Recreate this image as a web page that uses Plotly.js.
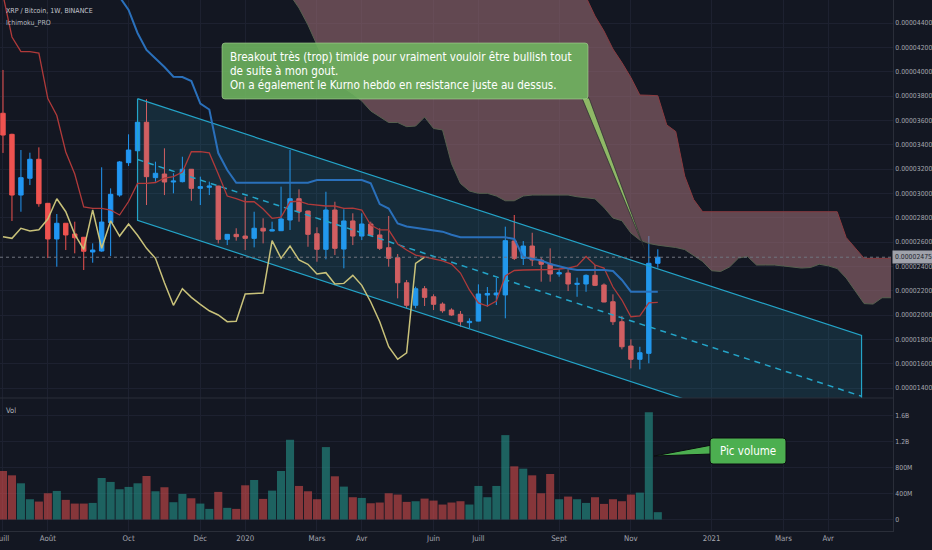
<!DOCTYPE html>
<html>
<head>
<meta charset="utf-8">
<script src="https://cdn.plot.ly/plotly-3.0.1.min.js"></script>
<style>
  html, body { margin: 0; padding: 0; background: #131722; }
  #chart { width: 932px; height: 550px; }
</style>
</head>
<body>
<div id="chart"></div>
<script>
// ---------- DATA (prices in satoshis, 1e-8 BTC; volume in millions) ----------
const weeks = [
  '2019-07-01','2019-07-08','2019-07-15','2019-07-22','2019-07-29','2019-08-05','2019-08-12','2019-08-19','2019-08-26','2019-09-02',
  '2019-09-09','2019-09-16','2019-09-23','2019-09-30','2019-10-07','2019-10-14','2019-10-21','2019-10-28','2019-11-04','2019-11-11',
  '2019-11-18','2019-11-25','2019-12-02','2019-12-09','2019-12-16','2019-12-23','2019-12-30','2020-01-06','2020-01-13','2020-01-20',
  '2020-01-27','2020-02-03','2020-02-10','2020-02-17','2020-02-24','2020-03-02','2020-03-09','2020-03-16','2020-03-23','2020-03-30',
  '2020-04-06','2020-04-13','2020-04-20','2020-04-27','2020-05-04','2020-05-11','2020-05-18','2020-05-25','2020-06-01','2020-06-08',
  '2020-06-15','2020-06-22','2020-06-29','2020-07-06','2020-07-13','2020-07-20','2020-07-27','2020-08-03','2020-08-10','2020-08-17',
  '2020-08-24','2020-08-31','2020-09-07','2020-09-14','2020-09-21','2020-09-28','2020-10-05','2020-10-12','2020-10-19','2020-10-26',
  '2020-11-02','2020-11-09','2020-11-16','2020-11-23'
];
const open = [
  3658,3485,2986,3124,3280,2918,2625,2754,2666,2639,
  2518,2526,2759,2986,3252,3350,3584,3129,3159,3093,
  3096,3198,3041,3050,3060,2622,2663,2649,2630,2713,
  2690,2693,2781,2956,2855,2668,2540,2863,2542,2773,
  2649,2748,2658,2553,2471,2265,2080,2216,2150,2090,
  2041,2006,1937,1950,2164,2165,2165,2608,2466,2567,
  2452,2419,2337,2345,2252,2255,2326,2247,2109,1945,
  1745,1636,1685,2425
];
const high = [
  4014,3490,3356,3334,3378,2920,2830,2756,2767,2641,
  2589,3214,3041,3266,3485,3590,3773,3260,3370,3165,
  3301,3200,3137,3096,3062,2666,2713,2972,2849,2795,
  2767,3055,3356,3033,2857,2721,3013,2931,2869,2836,
  2836,2767,2713,2814,2501,2288,2233,2238,2170,2104,
  2055,2033,1973,2252,2230,2304,2726,2822,2608,2676,
  2474,2548,2376,2376,2307,2334,2411,2260,2170,1992,
  1800,1739,2649,2540
];
const low = [
  3332,2773,2849,3068,2890,2468,2397,2534,2507,2370,
  2430,2520,2485,2972,3225,3345,2904,3096,2986,3000,
  3090,2939,2904,2986,2589,2575,2611,2534,2556,2589,
  2688,2690,2699,2767,2561,2438,2458,2493,2384,2575,
  2616,2650,2534,2397,2137,2055,2055,2074,2041,2019,
  1994,1904,1891,1948,2068,2082,1973,2452,2411,2403,
  2274,2274,2315,2197,2150,2191,2238,2105,1918,1718,
  1562,1553,1603,2389
];
const close = [
  3479,2986,3129,3280,2915,2625,2754,2658,2635,2524,
  2534,2764,2992,3258,3356,3584,3137,3165,3093,3101,
  3198,3041,3055,3060,2622,2663,2644,2630,2713,2690,
  2701,2789,2956,2849,2663,2540,2863,2548,2773,2649,
  2748,2655,2548,2466,2265,2080,2216,2145,2088,2035,
  2000,1945,1948,2173,2177,2181,2611,2466,2567,2452,
  2417,2337,2348,2255,2260,2326,2244,2107,1945,1739,
  1636,1690,2425,2475
];
const volumeM = [
  749,682,559,313,277,405,441,303,246,246,
  256,641,580,467,503,559,672,436,498,267,
  395,328,246,164,426,180,164,528,610,318,
  446,749,1231,518,436,313,1118,667,508,344,
  333,251,262,405,385,272,282,323,292,231,
  262,282,231,518,344,518,1303,821,785,682,
  405,703,313,354,313,256,344,241,313,282,
  385,415,1657,113
];
// Ichimoku
const tenkan = [
  4630,4285,4164,4164,4153,3779,3640,3340,3159,2888,
  2877,2877,2863,2822,2933,3082,3082,3089,3126,3137,
  3175,3342,3342,3332,3159,2978,2957,2931,2931,2871,
  2795,2805,2931,2935,2912,2902,2896,2896,2877,2879,
  2863,2740,2699,2699,2584,2534,2493,2477,2460,2444,
  2419,2345,2206,2099,2074,2115,2321,2366,2370,2370,
  2370,2374,2378,2386,2403,2481,2411,2386,2230,2123,
  1986,1992,2099,2104
];
const kijun = [
  5200,5200,5100,5100,5000,4950,4900,4850,4800,4750,
  4720,4700,4680,4614,4507,4318,4178,4108,4038,3959,
  3956,3923,3738,3689,3331,3192,3087,3087,3087,3087,
  3087,3087,3087,3087,3087,3110,3110,3110,3110,3110,
  3110,3082,2912,2875,2752,2727,2717,2707,2696,2685,
  2660,2639,2639,2639,2639,2639,2639,2625,2477,2462,
  2448,2419,2400,2383,2370,2370,2370,2370,2362,2288,
  2192,2192,2192,2192
];
// lagging span, plotted from the first week
const chikou = [
  2644,2630,2713,2690,2701,2789,2956,2849,2663,2540,
  2863,2548,2773,2649,2748,2655,2548,2466,2265,2080,
  2216,2145,2088,2035,2000,1945,1948,2173,2177,2181,
  2611,2466,2567,2452,2417,2337,2348,2255,2260,2326,
  2244,2107,1945,1739,1636,1690,2425,2475
];
const cloudWeeks = [
  '2020-02-10','2020-02-17','2020-02-24','2020-03-02','2020-03-09','2020-03-16','2020-03-23','2020-03-30',
  '2020-04-06','2020-04-13','2020-04-20','2020-04-27','2020-05-04','2020-05-11','2020-05-18','2020-05-25','2020-06-01','2020-06-08',
  '2020-06-15','2020-06-22','2020-06-29','2020-07-06','2020-07-13','2020-07-20','2020-07-27','2020-08-03','2020-08-10','2020-08-17',
  '2020-08-24','2020-08-31','2020-09-07','2020-09-14','2020-09-21','2020-09-28','2020-10-05','2020-10-12','2020-10-19','2020-10-26',
  '2020-11-02','2020-11-09','2020-11-16','2020-11-23','2020-11-30','2020-12-07','2020-12-14','2020-12-21','2020-12-28','2021-01-04',
  '2021-01-11','2021-01-18','2021-01-25','2021-02-01','2021-02-08','2021-02-15','2021-02-22','2021-03-01','2021-03-08','2021-03-15',
  '2021-03-22','2021-03-29','2021-04-05','2021-04-12','2021-04-19','2021-04-26','2021-05-03','2021-05-10','2021-05-17','2021-05-24'
];
const spanA = [
  4630,4523,4384,4219,4055,3931,3866,3816,
  3759,3677,3627,3582,3582,3548,3553,3627,3533,3521,
  3245,3081,3019,3000,3000,2978,2939,2939,2978,2986,
  2986,2986,2986,2986,2972,2966,2955,2884,2797,2775,
  2674,2616,2588,2574,2565,2555,2538,2487,2440,2364,
  2358,2395,2468,2481,2411,2411,2411,2403,2395,2386,
  2390,2417,2404,2382,2304,2197,2094,2090,2142,2142
];
const spanB = [
  5600,5600,5600,5450,5450,5300,5300,5300,
  5200,5200,5100,5100,5100,5000,5000,5000,4950,4950,
  4950,4900,4900,4850,4850,4800,4800,4800,4750,4750,
  4750,4700,4700,4680,4650,4614,4457,4334,4186,4075,
  3952,3808,3806,3802,3562,3508,3142,2949,2849,2849,
  2849,2849,2849,2849,2849,2849,2849,2849,2849,2849,
  2849,2849,2849,2849,2637,2551,2466,2466,2466,2466
];
const lastPrice = 2475;
// axis ticks
const priceTicks = [1400,1600,1800,2000,2200,2400,2600,2800,3000,3200,3400,3600,3800,4000,4200,4400];
const priceTickText = ['0.00001400','0.00001600','0.00001800','0.00002000','0.00002200','0.00002400','0.00002600','0.00002800',
  '0.00003000','0.00003200','0.00003400','0.00003600','0.00003800','0.00004000','0.00004200','0.00004400'];
const volTicks = [0,400,800,1200,1600];
const volTickText = ['0','400M','800M','1.2B','1.6B'];
const monthTicks = ['2019-07-01','2019-08-05','2019-10-07','2019-12-02','2020-01-06','2020-03-02','2020-04-06',
  '2020-06-01','2020-07-06','2020-09-07','2020-11-02','2021-01-04','2021-03-01','2021-04-05'];
const monthLabels = ['Juill','Août','Oct','Déc','2020','Mars','Avr','Juin','Juill','Sept','Nov','2021','Mars','Avr'];
// drawn parallel channel (drawing tool)
const channel = { from: '2019-10-14', to: '2021-05-01', upper: [3778, 1832], lower: [2778, 833] };

// ---------- STYLE ----------
const NARROW = '"DejaVu Sans Condensed", "Liberation Sans Narrow", sans-serif';
const BG = '#131722', GRID = '#1d2130', AXIS = '#a3a6af';
const UP = '#2196f3', DOWN = '#ef5350';
const PW = 893, PH = 531;               // plot area in px
const px = x => x / PW, py = y => (PH - y) / PH;

function roundRect(x0, y0, x1, y1, r) {
  const P = (x, y) => px(x) + ',' + py(y);
  return 'M' + P(x0 + r, y0) + ' L' + P(x1 - r, y0) + ' Q' + P(x1, y0) + ' ' + P(x1, y0 + r) +
    ' L' + P(x1, y1 - r) + ' Q' + P(x1, y1) + ' ' + P(x1 - r, y1) +
    ' L' + P(x0 + r, y1) + ' Q' + P(x0, y1) + ' ' + P(x0, y1 - r) +
    ' L' + P(x0, y0 + r) + ' Q' + P(x0, y0) + ' ' + P(x0 + r, y0) + ' Z';
}
function poly(pts) {
  return 'M' + pts.map(p => px(p[0]) + ',' + py(p[1])).join(' L') + ' Z';
}

const volColors = close.map((c, i) => c >= open[i] ? 'rgba(38,166,154,0.52)' : 'rgba(239,83,80,0.52)');
const mid = [(channel.upper[0] + channel.lower[0]) / 2, (channel.upper[1] + channel.lower[1]) / 2];

const traces = [
  { type: 'scatter', mode: 'lines', x: cloudWeeks, y: spanB, line: { color: '#8a3b40', width: 1 }, hoverinfo: 'skip' },
  { type: 'scatter', mode: 'lines', x: cloudWeeks, y: spanA, line: { color: '#56604f', width: 1 },
    fill: 'tonexty', fillcolor: 'rgba(160,110,118,0.56)', hoverinfo: 'skip' },
  { type: 'scatter', mode: 'lines',
    x: [channel.from, channel.to, channel.to, channel.from, channel.from],
    y: [channel.upper[0], channel.upper[1], channel.lower[1], channel.lower[0], channel.upper[0]],
    fill: 'toself', fillcolor: 'rgba(38,166,200,0.15)', line: { color: '#24a4c8', width: 1.2 }, hoverinfo: 'skip' },
  { type: 'scatter', mode: 'lines', x: [channel.from, channel.to], y: mid,
    line: { color: '#24a4c8', width: 1.5, dash: '6px,5px' }, hoverinfo: 'skip' },
  { type: 'candlestick', x: weeks, open: open, high: high, low: low, close: close,
    increasing: { line: { color: UP, width: 1 }, fillcolor: UP },
    decreasing: { line: { color: DOWN, width: 1 }, fillcolor: DOWN },
    whiskerwidth: 0, hoverinfo: 'skip' },
  { type: 'scatter', mode: 'lines', x: weeks.slice(0, chikou.length), y: chikou,
    line: { color: '#c9c27a', width: 1.5 }, hoverinfo: 'skip' },
  { type: 'scatter', mode: 'lines', x: weeks, y: tenkan, line: { color: '#b03a3a', width: 1.3 }, hoverinfo: 'skip' },
  { type: 'scatter', mode: 'lines', x: weeks, y: kijun, line: { color: '#2a70bb', width: 2 }, hoverinfo: 'skip' },
  { type: 'bar', x: weeks, y: volumeM, yaxis: 'y2', marker: { color: volColors, line: { width: 0 } }, hoverinfo: 'skip' }
];

const tickFont = { family: NARROW, size: 6.8, color: AXIS };
const layout = {
  width: 932, height: 550,
  paper_bgcolor: BG, plot_bgcolor: BG,
  margin: { l: 0, r: 39, t: 0, b: 19 },
  showlegend: false, hovermode: false, bargap: 0.1,
  xaxis: {
    type: 'date', range: ['2019-06-28 16:00:00', '2021-05-25 13:00:00'],
    tickvals: monthTicks, ticktext: monthLabels, tickfont: { family: NARROW, size: 7.8, color: AXIS },
    ticklabeloverflow: 'allow',
    gridcolor: GRID, zeroline: false, showline: true, linecolor: '#2a2e39', ticks: '',
    anchor: 'y2', rangeslider: { visible: false }, fixedrange: true
  },
  yaxis: {
    domain: [(PH - 398) / PH, 1], range: [1318, 4589], side: 'right',
    tickvals: priceTicks, ticktext: priceTickText, tickfont: tickFont, ticklabeloverflow: 'allow',
    gridcolor: GRID, zeroline: false, showline: true, linecolor: '#2a2e39', ticks: '', fixedrange: true
  },
  yaxis2: {
    domain: [0, (PH - 398) / PH], range: [-177.6, 1876], side: 'right',
    tickvals: volTicks, ticktext: volTickText, tickfont: tickFont, ticklabeloverflow: 'allow',
    gridcolor: GRID, zeroline: false, showline: true, linecolor: '#2a2e39', ticks: '', fixedrange: true
  },
  shapes: [
    // pane separator
    { type: 'line', xref: 'paper', yref: 'paper', x0: 0, x1: 1, y0: py(398), y1: py(398),
      line: { color: '#2a2e39', width: 1 }, layer: 'above' },
    // last price line
    { type: 'line', xref: 'paper', yref: 'y', x0: 0, x1: 1, y0: lastPrice, y1: lastPrice,
      line: { color: '#70737e', width: 1, dash: 'dot' }, layer: 'above' },
    // comment box + pointer
    { type: 'path', xref: 'paper', yref: 'paper', path: poly([[582, 98], [589, 98], [645, 250]]),
      fillcolor: '#8fb866', line: { color: '#1a1d26', width: 0.6 }, layer: 'above' },
    { type: 'path', xref: 'paper', yref: 'paper', path: roundRect(222, 43, 588, 99, 3),
      fillcolor: 'rgba(112,182,96,0.88)', line: { color: 'rgba(170,210,150,0.6)', width: 1 }, layer: 'above' },
    // volume callout
    { type: 'path', xref: 'paper', yref: 'paper', path: poly([[712, 445], [712, 454], [654, 456]]),
      fillcolor: '#4caf50', line: { color: '#0a0c10', width: 1 }, layer: 'above' },
    { type: 'path', xref: 'paper', yref: 'paper', path: roundRect(710, 438, 786, 464, 3),
      fillcolor: '#4caf50', line: { color: '#0a0c10', width: 1 }, layer: 'above' }
  ],
  annotations: [
    { xref: 'paper', yref: 'paper', x: px(4), y: py(11), xanchor: 'left', yanchor: 'middle', showarrow: false,
      text: 'XRP / Bitcoin, 1W, BINANCE', font: { family: NARROW, size: 7, color: '#c3c6ce' } },
    { xref: 'paper', yref: 'paper', x: px(4), y: py(23), xanchor: 'left', yanchor: 'middle', showarrow: false,
      text: 'Ichimoku_PRO', font: { family: NARROW, size: 7, color: '#b2b5be' } },
    { xref: 'paper', yref: 'paper', x: px(4), y: py(410), xanchor: 'left', yanchor: 'middle', showarrow: false,
      text: 'Vol', font: { family: NARROW, size: 7.5, color: '#b2b5be' } },
    { xref: 'paper', yref: 'paper', x: px(228), y: py(57), xanchor: 'left', yanchor: 'middle', showarrow: false,
      text: 'Breakout très (trop) timide pour vraiment vouloir être bullish tout', font: { family: NARROW, size: 11.6, color: '#ffffff' } },
    { xref: 'paper', yref: 'paper', x: px(228), y: py(71), xanchor: 'left', yanchor: 'middle', showarrow: false,
      text: 'de suite à mon gout.', font: { family: NARROW, size: 11.6, color: '#ffffff' } },
    { xref: 'paper', yref: 'paper', x: px(228), y: py(85), xanchor: 'left', yanchor: 'middle', showarrow: false,
      text: 'On a également le Kurno hebdo en resistance juste au dessus.', font: { family: NARROW, size: 11.6, color: '#ffffff' } },
    { xref: 'paper', yref: 'paper', x: px(748), y: py(451), xanchor: 'center', yanchor: 'middle', showarrow: false,
      text: 'Pic volume', font: { family: NARROW, size: 11.5, color: '#ffffff' } },
    { xref: 'paper', yref: 'y', x: 1, y: lastPrice, xanchor: 'left', yanchor: 'middle', showarrow: false,
      text: '0.00002475', bgcolor: '#9fa2ab', borderpad: 2, xshift: -1,
      font: { family: NARROW, size: 6.8, color: '#1e222d' } }
  ]
};

Plotly.newPlot('chart', traces, layout, { staticPlot: true, displayModeBar: false });
</script>
</body>
</html>
